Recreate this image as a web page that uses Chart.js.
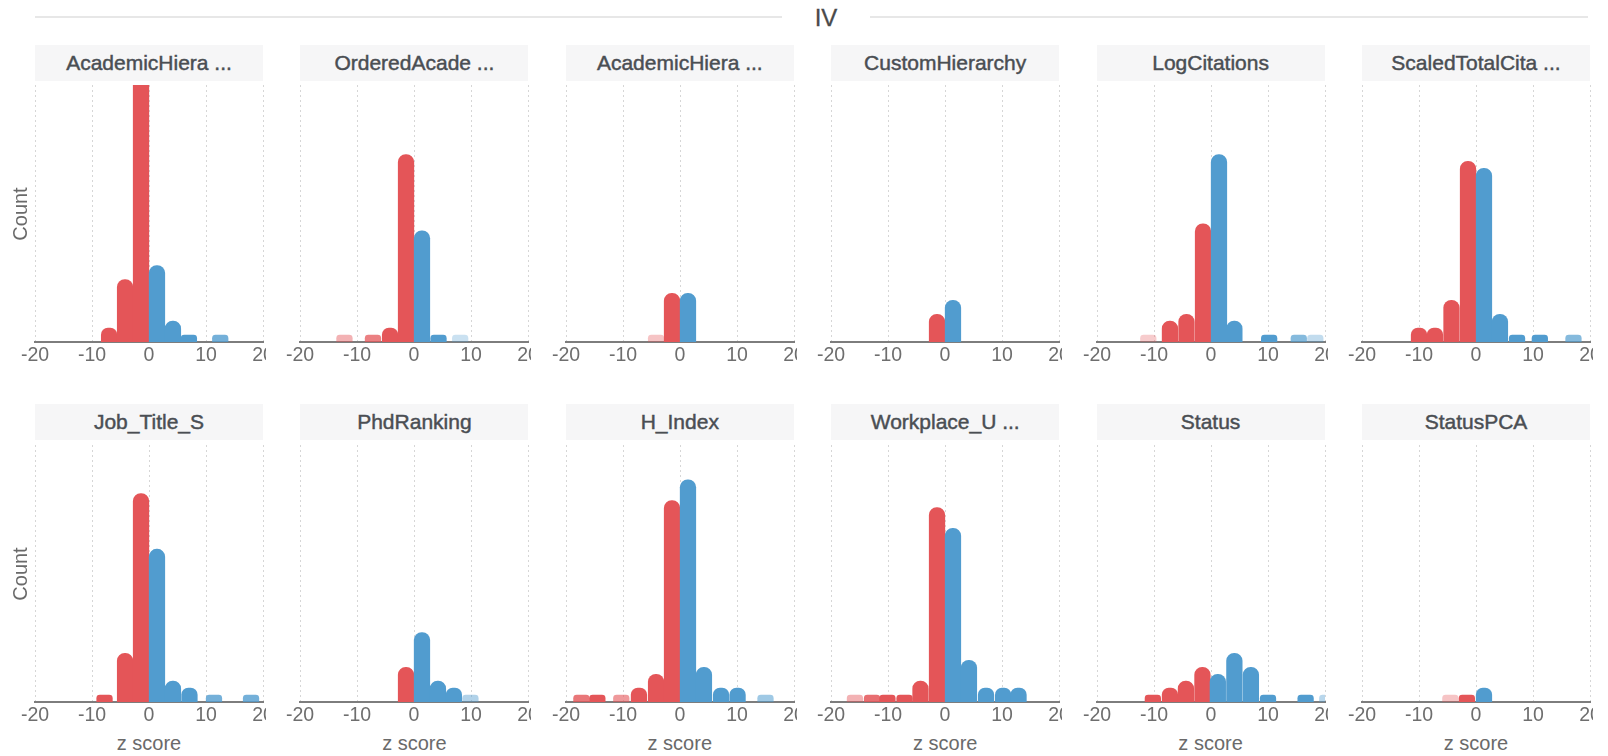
<!DOCTYPE html>
<html>
<head>
<meta charset="utf-8">
<script src="https://cdn.jsdelivr.net/npm/chart.js@4.4.1/dist/chart.umd.min.js"></script>
<style>
  html, body { margin: 0; padding: 0; background: #ffffff; }
  body {
    width: 1608px; height: 756px; position: relative; overflow: hidden;
    font-family: "Liberation Sans", Arial, Helvetica, sans-serif;
  }
  .rule { position: absolute; top: 16px; height: 2px; background: #e7e7e7; }
  .heading {
    position: absolute; top: 4px; left: 786px; width: 80px; text-align: center;
    font-size: 24px; line-height: 28px; color: #4a4a4a; -webkit-text-stroke: 0.3px #4a4a4a;
  }
  .facet-title {
    position: absolute; width: 228px; height: 36px; background: #f6f6f7;
    color: #4a4e53; font-weight: normal; font-size: 21px; line-height: 36px;
    -webkit-text-stroke: 0.45px #4a4e53;
    text-align: center; white-space: nowrap;
  }
  .facet { position: absolute; }
  .y-title {
    position: absolute; width: 120px; height: 24px; line-height: 24px; text-align: center;
    font-size: 20px; color: #6a6a6a; transform: rotate(-90deg);
  }
  .x-title {
    position: absolute; width: 228px; height: 24px; line-height: 24px; text-align: center;
    font-size: 20px; color: #6a6a6a;
  }
</style>
</head>
<body>
<div class="rule" style="left:35px;width:747px;"></div>
<div class="rule" style="left:870px;width:718px;"></div>
<div class="heading">IV</div>
<div id="grid"></div>

<script>
// Facet headings, one per panel (row by row)
const panelTitles = [
  'AcademicHiera ...', 'OrderedAcade ...', 'AcademicHiera ...',
  'CustomHierarchy', 'LogCitations', 'ScaledTotalCita ...',
  'Job_Title_S', 'PhdRanking', 'H_Index',
  'Workplace_U ...', 'Status', 'StatusPCA'
];

// Shared axes
const zTicks = [-20, -10, 0, 10, 20];
const countMax = 37;
const yAxisTitle = 'Count';
const xAxisTitle = 'z score';

// Bin centres (z score), counts and bar opacity for each panel
const academicHieraAZ = [-7.0, -4.2, -1.4, 1.4, 4.2, 7.0, 12.5];
const academicHieraACount = [2, 9, 45, 11, 3, 1, 1];
const academicHieraAOpacity = [1, 1, 1, 1, 1, 1, 0.8];

const orderedAcadeZ = [-12.2, -7.2, -4.2, -1.4, 1.4, 4.3, 8.1];
const orderedAcadeCount = [1, 1, 2, 27, 16, 1, 1];
const orderedAcadeOpacity = [0.45, 0.75, 1, 1, 1, 1, 0.3];

const academicHieraBZ = [-4.2, -1.4, 1.4];
const academicHieraBCount = [1, 7, 7];
const academicHieraBOpacity = [0.35, 1, 1];

const customHierarchyZ = [-1.4, 1.4];
const customHierarchyCount = [4, 6];
const customHierarchyOpacity = [1, 1];

const logCitationsZ = [-11.0, -7.2, -4.3, -1.4, 1.4, 4.1, 10.2, 15.4, 18.3];
const logCitationsCount = [1, 3, 4, 17, 27, 3, 1, 1, 1];
const logCitationsOpacity = [0.3, 1, 1, 1, 1, 1, 1, 0.7, 0.35];

const scaledTotalCitaZ = [-10.0, -7.2, -4.3, -1.4, 1.4, 4.2, 7.2, 11.2, 17.1];
const scaledTotalCitaCount = [2, 2, 6, 26, 25, 4, 1, 1, 1];
const scaledTotalCitaOpacity = [1, 1, 1, 1, 1, 1, 1, 1, 0.7];

const jobTitleZ = [-7.8, -4.2, -1.4, 1.4, 4.2, 7.1, 11.4, 17.9];
const jobTitleCount = [1, 7, 30, 22, 3, 2, 1, 1];
const jobTitleOpacity = [1, 1, 1, 1, 1, 1, 0.8, 0.8];

const phdRankingZ = [-1.4, 1.4, 4.2, 7.0, 9.9];
const phdRankingCount = [5, 10, 3, 2, 1];
const phdRankingOpacity = [1, 1, 1, 1, 0.45];

const hIndexZ = [-17.3, -14.5, -10.3, -7.2, -4.2, -1.4, 1.4, 4.2, 7.2, 10.1, 15.0];
const hIndexCount = [1, 1, 1, 2, 4, 29, 32, 5, 2, 2, 1];
const hIndexOpacity = [0.8, 1, 0.6, 1, 1, 1, 1, 1, 1, 1, 0.55];

const workplaceZ = [-15.8, -12.8, -10.1, -7.1, -4.3, -1.4, 1.4, 4.2, 7.2, 10.2, 12.9];
const workplaceCount = [1, 1, 1, 1, 3, 28, 25, 6, 2, 2, 2];
const workplaceOpacity = [0.45, 0.85, 1, 1, 1, 1, 1, 1, 1, 1, 1];

const statusZ = [-10.2, -7.2, -4.4, -1.5, 1.2, 4.1, 7.0, 10.0, 16.6, 20.4];
const statusCount = [1, 2, 3, 5, 4, 7, 5, 1, 1, 1];
const statusOpacity = [1, 1, 1, 1, 1, 1, 1, 1, 1, 0.4];

const statusPcaZ = [-4.5, -1.6, 1.4];
const statusPcaCount = [1, 1, 2];
const statusPcaOpacity = [0.35, 1, 1];

const panels = [
  [academicHieraAZ, academicHieraACount, academicHieraAOpacity],
  [orderedAcadeZ, orderedAcadeCount, orderedAcadeOpacity],
  [academicHieraBZ, academicHieraBCount, academicHieraBOpacity],
  [customHierarchyZ, customHierarchyCount, customHierarchyOpacity],
  [logCitationsZ, logCitationsCount, logCitationsOpacity],
  [scaledTotalCitaZ, scaledTotalCitaCount, scaledTotalCitaOpacity],
  [jobTitleZ, jobTitleCount, jobTitleOpacity],
  [phdRankingZ, phdRankingCount, phdRankingOpacity],
  [hIndexZ, hIndexCount, hIndexOpacity],
  [workplaceZ, workplaceCount, workplaceOpacity],
  [statusZ, statusCount, statusOpacity],
  [statusPcaZ, statusPcaCount, statusPcaOpacity]
];

// Layout of the facet grid
const FONT = '"Liberation Sans", Arial, Helvetica, sans-serif';
const plotW = 228, plotH = 257;
const colX = i => 35 + i * 265.4;
const rowTitleTop = [45, 404];
const rowPlotTop = [85, 445];
const leftPad = 36, rightPad = 3, axisH = 28;
const NEG = [228, 85, 88], POS = [81, 156, 207];

Chart.defaults.font.family = FONT;

const host = document.getElementById('grid');

function addEl(cls, text, style) {
  const d = document.createElement('div');
  d.className = cls;
  d.textContent = text;
  Object.assign(d.style, style);
  document.body.appendChild(d);
  return d;
}

panels.forEach(([zs, counts, opac], k) => {
  const row = Math.floor(k / 6), col = k % 6;
  const left = colX(col);

  addEl('facet-title', panelTitles[k], { left: left + 'px', top: rowTitleTop[row] + 'px' });

  const cv = document.createElement('canvas');
  cv.className = 'facet';
  cv.width = plotW + leftPad + rightPad;
  cv.height = plotH + axisH;
  cv.style.left = (left - leftPad) + 'px';
  cv.style.top = rowPlotTop[row] + 'px';
  host.appendChild(cv);

  new Chart(cv, {
    type: 'bar',
    data: {
      datasets: [{
        data: zs.map((z, i) => ({ x: z, y: counts[i] })),
        backgroundColor: ctx => {
          const i = ctx.dataIndex;
          const c = zs[i] < 0 ? NEG : POS;
          return `rgba(${c[0]},${c[1]},${c[2]},${opac[i]})`;
        },
        borderWidth: 0,
        borderRadius: 8,
        borderSkipped: 'start',
        barThickness: 15.6,
        clip: 0
      }]
    },
    options: {
      responsive: false,
      animation: false,
      events: [],
      layout: { padding: { left: leftPad, right: rightPad, top: 0, bottom: 0 } },
      plugins: { legend: { display: false }, tooltip: { enabled: false } },
      scales: {
        x: {
          type: 'linear',
          min: zTicks[0],
          max: zTicks[zTicks.length - 1],
          offset: false,
          afterBuildTicks: s => { s.ticks = zTicks.map(v => ({ value: v })); },
          afterFit: s => { s.paddingLeft = 0; s.paddingRight = 0; s.height = axisH; },
          grid: { offset: false, color: '#d6d6d6', lineWidth: 1, drawTicks: false, tickLength: 0 },
          border: { display: true, color: '#7d7d7d', width: 2, dash: [2, 3] },
          ticks: {
            color: '#6e6e6e', padding: 2, maxRotation: 0, minRotation: 0, autoSkip: false,
            font: { size: 19.5, family: FONT }
          }
        },
        y: { display: false, min: 0, max: countMax }
      }
    }
  });

  if (row === 1) {
    addEl('x-title', xAxisTitle, { left: left + 'px', top: '731px' });
  }
});

// Shared y-axis titles at the left of each row
rowPlotTop.forEach(top => {
  addEl('y-title', yAxisTitle, { left: (20 - 60) + 'px', top: (top + plotH / 2 - 12) + 'px' });
});
</script>
</body>
</html>
